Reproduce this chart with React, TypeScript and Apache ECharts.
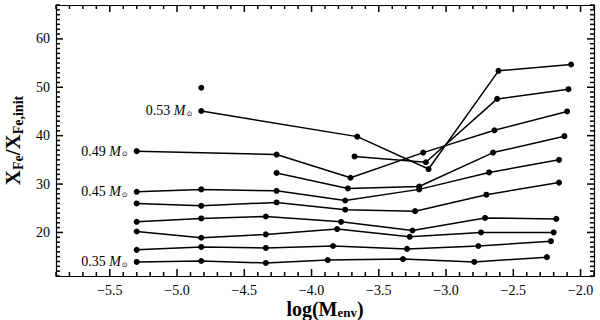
import React, { useEffect, useRef } from "react";
import * as echarts from "echarts";

const X_MIN = -5.9;
const X_MAX = -1.9;
const Y_MIN = 11;
const Y_MAX = 67;
const xMajorTicks = [-5.5, -5.0, -4.5, -4.0, -3.5, -3.0, -2.5, -2.0];
const yMajorTicks = [20, 30, 40, 50, 60];

// series (bottom to top)
const m035X = [-5.30, -4.82, -4.34, -3.88, -3.32, -2.79, -2.25];
const m035Y = [13.9, 14.1, 13.7, 14.3, 14.5, 13.9, 14.9];
const m2X = [-5.30, -4.82, -4.34, -3.84, -3.29, -2.76, -2.22];
const m2Y = [16.4, 17.0, 16.8, 17.2, 16.6, 17.2, 18.2];
const m3X = [-5.30, -4.82, -4.34, -3.81, -3.27, -2.74, -2.20];
const m3Y = [20.2, 18.9, 19.6, 20.7, 19.1, 20.0, 20.0];
const m4X = [-5.30, -4.82, -4.34, -3.78, -3.25, -2.71, -2.18];
const m4Y = [22.2, 22.9, 23.3, 22.2, 20.4, 23.0, 22.8];
const m5X = [-5.30, -4.82, -4.26, -3.75, -3.23, -2.70, -2.16];
const m5Y = [26.0, 25.5, 26.2, 24.7, 24.4, 27.8, 30.3];
const m045X = [-5.30, -4.82, -4.26, -3.75, -3.20, -2.68, -2.16];
const m045Y = [28.4, 28.9, 28.6, 26.6, 28.9, 32.4, 35.0];
const m7X = [-4.26, -3.73, -3.20, -2.65, -2.12];
const m7Y = [32.3, 29.1, 29.5, 36.5, 39.9];
const m049X = [-5.30, -4.26, -3.71, -3.17, -2.64, -2.10];
const m049Y = [36.8, 36.1, 31.3, 36.5, 41.1, 45.0];
const mIsoX = [-4.82];
const mIsoY = [49.9];
const m9X = [-3.68, -3.15, -2.62, -2.09];
const m9Y = [35.7, 34.5, 47.6, 49.6];
const m053X = [-4.82, -3.66, -3.13, -2.61, -2.07];
const m053Y = [45.1, 39.8, 33.1, 53.4, 54.7];

const labelFor: Record<string, string> = {
  m035: "0.35",
  m045: "0.45",
  m049: "0.49",
  m053: "0.53",
};

const SERIF = "Liberation Serif";

const seriesDefs = [
  { id: "m035", xs: m035X, ys: m035Y },
  { id: "m2", xs: m2X, ys: m2Y },
  { id: "m3", xs: m3X, ys: m3Y },
  { id: "m4", xs: m4X, ys: m4Y },
  { id: "m5", xs: m5X, ys: m5Y },
  { id: "m045", xs: m045X, ys: m045Y },
  { id: "m7", xs: m7X, ys: m7Y },
  { id: "m049", xs: m049X, ys: m049Y },
  { id: "mIso", xs: mIsoX, ys: mIsoY },
  { id: "m9", xs: m9X, ys: m9Y },
  { id: "m053", xs: m053X, ys: m053Y },
];

// tick positions (minor every 0.1 in x, every 1 in y)
function range(a: number, b: number, step: number) {
  const out: number[] = [];
  const n = Math.round((b - a) / step);
  for (let i = 0; i <= n; i++) out.push(Math.round((a + i * step) * 1000) / 1000);
  return out;
}
const isMajor = (list: number[], v: number) => list.some((t) => Math.abs(t - v) < 1e-6);
const xTickData = range(X_MIN, X_MAX, 0.1).map((v) => [v, Y_MIN, isMajor(xMajorTicks, v) ? 1 : 0]);
const yTickData = range(Y_MIN, Y_MAX, 1).map((v) => [X_MIN, v, isMajor(yMajorTicks, v) ? 1 : 0]);

const fmtMinus = (v: number) => (v < 0 ? "\u2212" + Math.abs(v).toFixed(1) : v.toFixed(1));

export default function App() {
  const ref = useRef<HTMLDivElement>(null);
  useEffect(() => {
    if (!ref.current) return;
    const chart = echarts.init(ref.current, undefined, { renderer: "svg" });

    const axisLine = { show: true, onZero: false, lineStyle: { color: "#000", width: 1.2 } };
    const tickStyle = { stroke: "#000", lineWidth: 1.5, fill: "none" };

    const xAxes = [
      {
        type: "value" as const,
        min: X_MIN,
        max: X_MAX,
        position: "bottom",
        splitLine: { show: false },
        axisLine,
        axisTick: { show: false },
        name: "{b|log(M}{sub|env}{b|)}",
        nameLocation: "middle",
        nameGap: 23,
        nameMoveOverlap: false,
        nameTextStyle: {
          rich: {
            b: { fontFamily: SERIF, fontSize: 20, fontWeight: "bold", color: "#000" },
            sub: { fontFamily: SERIF, fontSize: 13, fontWeight: "bold", color: "#000", padding: [6, 0, 0, 0] },
          },
        },
        axisLabel: {
          show: true,
          customValues: xMajorTicks,
          formatter: (v: number) => fmtMinus(v),
          fontFamily: SERIF,
          fontSize: 14,
          color: "#000",
          margin: 7,
        },
      },
      {
        type: "value" as const,
        min: X_MIN,
        max: X_MAX,
        position: "top",
        splitLine: { show: false },
        axisLine,
        axisTick: { show: false },
        axisLabel: { show: false },
      },
    ];
    const yAxes = [
      {
        type: "value" as const,
        min: Y_MIN,
        max: Y_MAX,
        position: "left",
        splitLine: { show: false },
        axisLine,
        axisTick: { show: false },
        name: "{b|X}{sub|Fe}{b|/X}{sub|Fe,init}",
        nameLocation: "middle",
        nameGap: 30,
        nameRotate: 90,
        nameTextStyle: {
          rich: {
            b: { fontFamily: SERIF, fontSize: 21, fontWeight: "bold", color: "#000" },
            sub: { fontFamily: SERIF, fontSize: 14, fontWeight: "bold", color: "#000", padding: [10, 0, 0, 0] },
          },
        },
        axisLabel: {
          show: true,
          customValues: yMajorTicks,
          fontFamily: SERIF,
          fontSize: 14,
          color: "#000",
          margin: 6,
        },
      },
      {
        type: "value" as const,
        min: Y_MIN,
        max: Y_MAX,
        position: "right",
        splitLine: { show: false },
        axisLine,
        axisTick: { show: false },
        axisLabel: { show: false },
      },
    ];

    const tickSeries = [
      {
        type: "custom" as const,
        silent: true,
        clip: false,
        z: 5,
        data: xTickData,
        renderItem: (_p: any, api: any) => {
          const v = api.value(0);
          const len = api.value(2) ? 7 : 4;
          const b = api.coord([v, Y_MIN]);
          const t = api.coord([v, Y_MAX]);
          return {
            type: "group",
            children: [
              { type: "line", shape: { x1: b[0], y1: b[1], x2: b[0], y2: b[1] - len }, style: tickStyle },
              { type: "line", shape: { x1: t[0], y1: t[1], x2: t[0], y2: t[1] + len }, style: tickStyle },
            ],
          };
        },
      },
      {
        type: "custom" as const,
        silent: true,
        clip: false,
        z: 5,
        data: yTickData,
        renderItem: (_p: any, api: any) => {
          const v = api.value(1);
          const len = api.value(2) ? 7 : 4;
          const l = api.coord([X_MIN, v]);
          const r = api.coord([X_MAX, v]);
          return {
            type: "group",
            children: [
              { type: "line", shape: { x1: l[0], y1: l[1], x2: l[0] + len, y2: l[1] }, style: tickStyle },
              { type: "line", shape: { x1: r[0], y1: r[1], x2: r[0] - len, y2: r[1] }, style: tickStyle },
            ],
          };
        },
      },
    ];

    const series = seriesDefs.map((s) => ({
      type: "line" as const,
      xAxisIndex: 0,
      yAxisIndex: 0,
      symbol: "circle",
      symbolSize: 6,
      showSymbol: true,
      itemStyle: { color: "#000" },
      lineStyle: { color: "#000", width: 1.5 },
      data: s.xs.map((x, i) => {
        const item: any = { value: [x, s.ys[i]] };
        if (i === 0 && labelFor[s.id]) {
          item.label = {
            show: true,
            position: "left",
            distance: 6,
            formatter: "{n|" + labelFor[s.id] + " }{m|M}{s|\u2299}",
            rich: {
              n: { fontFamily: SERIF, fontSize: 14, color: "#000" },
              m: { fontFamily: SERIF, fontSize: 14, fontStyle: "italic", color: "#000" },
              s: { fontFamily: "DejaVu Sans", fontSize: 7, color: "#000", padding: [6, 0, 0, 1] },
            },
          };
        }
        return item;
      }),
    }));

    chart.setOption({
      animation: false,
      backgroundColor: "#fff",
      grid: { left: 56, right: 6, top: 5, bottom: 44, outerBoundsMode: "none", containLabel: false },
      xAxis: xAxes,
      yAxis: yAxes,
      series: [...tickSeries, ...series],
    });
    return () => chart.dispose();
  }, []);
  return (
    <div
      ref={ref}
      style={{ position: "fixed", left: 0, top: 0, width: 600, height: 320, background: "#fff" }}
    />
  );
}
